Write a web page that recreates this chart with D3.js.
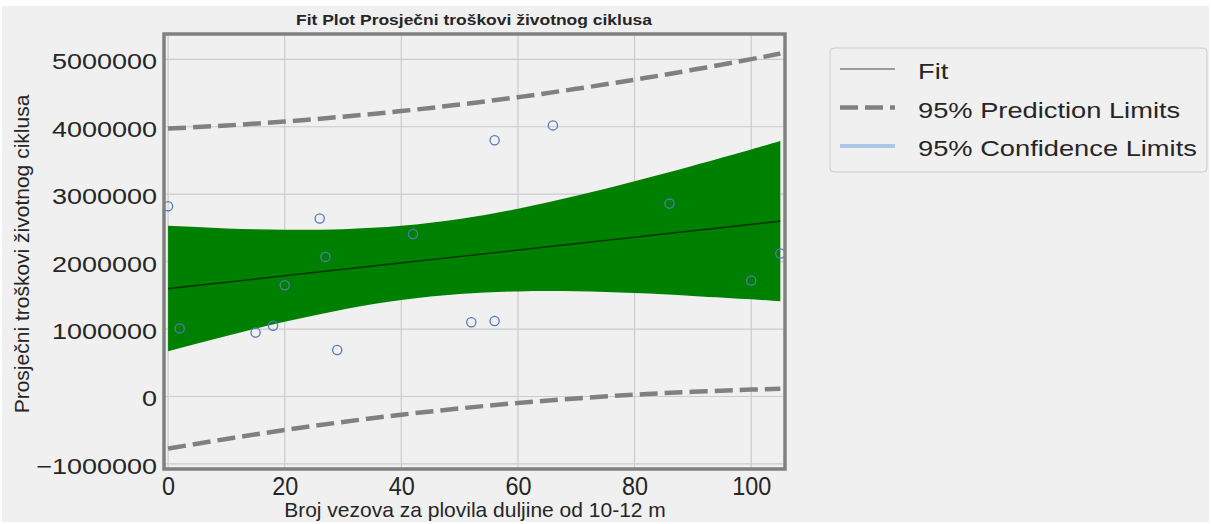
<!DOCTYPE html>
<html>
<head>
<meta charset="utf-8">
<script src="https://cdn.jsdelivr.net/npm/d3@7"></script>
<style>
  body { margin: 0; background: #fff; }
  text { font-family: "Liberation Sans", Arial, sans-serif; fill: #262626; }
</style>
</head>
<body>
<svg id="chart" width="1211" height="524"></svg>
<script>
var pointsX = [0, 2, 15, 18, 20, 26, 27, 29, 42, 52, 56, 56, 66, 86, 100, 105];
var pointsY = [2820000, 1010000, 950000, 1050000, 1650000, 2640000, 2070000, 690000,
               2410000, 1100000, 3800000, 1120000, 4020000, 2860000, 1720000, 2120000];

// fit + limits, sampled along x
var curveX    = [0, 10, 20, 30, 40, 50, 60, 70, 80, 90, 100, 105];
var fitY      = [1600000, 1695000, 1790000, 1886000, 1981000, 2076000, 2171000, 2267000, 2362000, 2457000, 2552000, 2600000];
var ciLower   = [670000, 898000, 1108000, 1291000, 1431000, 1520000, 1558000, 1559000, 1533000, 1492000, 1441000, 1413000];
var ciUpper   = [2530000, 2492000, 2472000, 2481000, 2531000, 2632000, 2784000, 2975000, 3191000, 3422000, 3663000, 3787000];
var piLower   = [-773000, -629000, -497000, -377000, -270000, -177000, -96000, -28000, 27000, 70000, 102000, 115000];
var piUpper   = [3973000, 4019000, 4077000, 4149000, 4232000, 4329000, 4438000, 4562000, 4697000, 4844000, 5002000, 5085000];

var xTicks = [0, 20, 40, 60, 80, 100];
var yTicks = [-1000000, 0, 1000000, 2000000, 3000000, 4000000, 5000000];
var legendLabels = ["Fit", "95% Prediction Limits", "95% Confidence Limits"];

var svg = d3.select("#chart");
svg.append("rect")
    .attr("x", 2).attr("y", 6)
    .attr("width", 1207).attr("height", 516)
    .attr("fill", "#f0f0f0");

var plot = {left: 164, right: 785, top: 34, bottom: 469};

var x = d3.scaleLinear().domain([-0.7, 105.8]).range([plot.left, plot.right]);
var y = d3.scaleLinear().domain([-1075000, 5375000]).range([plot.bottom, plot.top]);

svg.append("clipPath").attr("id", "clip")
  .append("rect")
    .attr("x", plot.left).attr("y", plot.top)
    .attr("width", plot.right - plot.left).attr("height", plot.bottom - plot.top);

// grid
var grid = svg.append("g").attr("stroke", "#cbcbcb").attr("stroke-width", 1.2);
grid.selectAll(".vx")
    .data(xTicks)
  .enter().append("line")
    .attr("x1", function(d) { return x(d); })
    .attr("x2", function(d) { return x(d); })
    .attr("y1", plot.top)
    .attr("y2", plot.bottom);
grid.selectAll(".hy")
    .data(yTicks)
  .enter().append("line")
    .attr("x1", plot.left)
    .attr("x2", plot.right)
    .attr("y1", function(d) { return y(d); })
    .attr("y2", function(d) { return y(d); });

var idx = d3.range(curveX.length);
var container = svg.append("g").attr("clip-path", "url(#clip)");

// confidence band
var band = d3.area()
    .x(function(i) { return x(curveX[i]); })
    .y0(function(i) { return y(ciLower[i]); })
    .y1(function(i) { return y(ciUpper[i]); })
    .curve(d3.curveNatural);

container.append("path")
    .datum(idx)
    .attr("d", band)
    .attr("fill", "#008000");

function lineOf(arr) {
  return d3.line()
      .x(function(i) { return x(curveX[i]); })
      .y(function(i) { return y(arr[i]); })
      .curve(d3.curveNatural);
}

container.append("path")
    .datum(idx)
    .attr("d", lineOf(fitY))
    .attr("fill", "none")
    .attr("stroke", "#000")
    .attr("stroke-opacity", 0.55)
    .attr("stroke-width", 1.6);

[piLower, piUpper].forEach(function(arr) {
  container.append("path")
      .datum(idx)
      .attr("d", lineOf(arr))
      .attr("fill", "none")
      .attr("stroke", "#808080")
      .attr("stroke-width", 4.5)
      .attr("stroke-dasharray", "18,7");
});

// observations
svg.append("g")
    .selectAll("circle")
    .data(pointsX)
  .enter().append("circle")
    .attr("cx", function(d) { return x(d); })
    .attr("cy", function(d, i) { return y(pointsY[i]); })
    .attr("r", 4.6)
    .attr("fill", "none")
    .attr("stroke", "#5877b8")
    .attr("stroke-width", 1.3);

// frame
svg.append("rect")
    .attr("x", plot.left).attr("y", plot.top)
    .attr("width", plot.right - plot.left).attr("height", plot.bottom - plot.top)
    .attr("fill", "none")
    .attr("stroke", "#808080")
    .attr("stroke-width", 3.5);

// axes
var yAxis = d3.axisLeft(y).tickValues(yTicks).tickSize(0).tickFormat(d3.format("d"));
var gy = svg.append("g")
    .attr("transform", "translate(" + plot.left + ",0)")
    .call(yAxis);
gy.select(".domain").remove();
gy.selectAll("text")
    .attr("x", -7 / 1.2)
    .attr("dy", "0.42em")
    .attr("transform", "scale(1.2,1)")
    .style("font-size", "22.5px");

var xAxis = d3.axisBottom(x).tickValues(xTicks).tickSize(0).tickFormat(d3.format("d"));
var gx = svg.append("g")
    .attr("transform", "translate(0," + plot.bottom + ")")
    .call(xAxis);
gx.select(".domain").remove();
gx.selectAll("text")
    .attr("y", 26)
    .attr("dy", 0)
    .attr("transform", "scale(0.9,1)")
    .style("font-size", "26px");

// titles
svg.append("text")
    .attr("x", 474).attr("y", 25)
    .attr("text-anchor", "middle")
    .attr("textLength", 356)
    .attr("lengthAdjust", "spacingAndGlyphs")
    .style("font-size", "15px")
    .style("font-weight", "bold")
    .text("Fit Plot Prosječni troškovi životnog ciklusa");

svg.append("text")
    .attr("x", 475).attr("y", 517)
    .attr("text-anchor", "middle")
    .style("font-size", "21px")
    .text("Broj vezova za plovila duljine od 10-12 m");

svg.append("text")
    .attr("transform", "translate(28.5,254) rotate(-90)")
    .attr("text-anchor", "middle")
    .style("font-size", "21px")
    .text("Prosječni troškovi životnog ciklusa");

// legend
var legend = svg.append("g");
legend.append("rect")
    .attr("x", 830).attr("y", 48)
    .attr("width", 377).attr("height", 124)
    .attr("rx", 4)
    .attr("fill", "#f0f0f0")
    .attr("stroke", "#cccccc");

var legendStyles = [
  {stroke: "#808080", width: 1.6, dash: null},
  {stroke: "#808080", width: 4.5, dash: "18,7"},
  {stroke: "#aec7e8", width: 4, dash: null}
];

legendLabels.forEach(function(label, i) {
  var ly = 69 + i * 38.5;
  legend.append("line")
      .attr("x1", 840).attr("x2", 895)
      .attr("y1", ly).attr("y2", ly)
      .attr("stroke", legendStyles[i].stroke)
      .attr("stroke-width", legendStyles[i].width)
      .attr("stroke-dasharray", legendStyles[i].dash);
  legend.append("text")
      .attr("transform", "translate(918," + (ly + 10) + ") scale(1.24,1)")
      .style("font-size", "22px")
      .text(label);
});
</script>
</body>
</html>
